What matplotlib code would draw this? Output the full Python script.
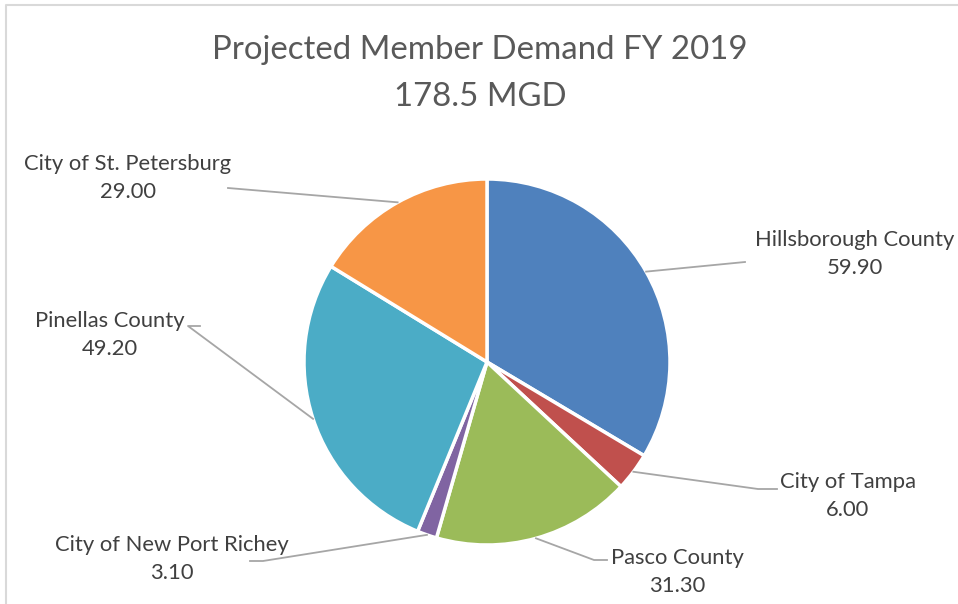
import numpy as np
import matplotlib
matplotlib.use("Agg")
import matplotlib.pyplot as plt
from matplotlib.lines import Line2D

categories = ["Hillsborough County", "City of Tampa", "Pasco County",
              "City of New Port Richey", "Pinellas County", "City of St. Petersburg"]
values = [59.90, 6.00, 31.30, 3.10, 49.20, 29.00]
colors = ["#4F81BD", "#C0504D", "#9BBB59", "#8064A2", "#4BACC6", "#F79646"]
title_lines = ["Projected Member Demand FY 2019", "178.5 MGD"]

# label layout (pixel positions of text centre, line end point)
label_pos = [(855, 254), (848, 496), (677, 572), (172, 559), (110, 335), (128, 178)]
line_end = [(745, 262), (777, 489), (607, 560), (250, 561), (200, 326), (228, 188)]
line_knee = [None, (758, 489), (594, 560), (263, 561), (188, 326), None]

W, H = 958, 604
fig = plt.figure(figsize=(W / 100, H / 100), dpi=100)
ax = fig.add_axes([0, 0, 1, 1])
ax.set_xlim(0, W)
ax.set_ylim(0, H)
ax.set_aspect("equal")
ax.axis("off")

font = "Lato"
txtcol = "#404040"

cx, cy, R = 487, H - 362, 183
wedges, _ = ax.pie(values, colors=colors, startangle=90, counterclock=False,
                   center=(cx, cy), radius=R,
                   wedgeprops=dict(edgecolor="white", linewidth=2.5))
ax.set_xlim(0, W)
ax.set_ylim(0, H)

total = sum(values)
cum = np.cumsum([0] + values)
for i, (name, v) in enumerate(zip(categories, values)):
    mid = (cum[i] + cum[i + 1]) / 2 / total * 360
    ang = np.deg2rad(90 - mid)
    px, py = cx + R * np.cos(ang), cy + R * np.sin(ang)
    ex, ey = line_end[i]
    pts_x = [px]
    pts_y = [py]
    if line_knee[i] is not None:
        kx, ky = line_knee[i]
        pts_x.append(kx); pts_y.append(H - ky)
    pts_x.append(ex); pts_y.append(H - ey)
    ax.add_line(Line2D(pts_x, pts_y, color="#A6A6A6", lw=1.3, zorder=1))
    lx, ly = label_pos[i]
    ax.text(lx, H - ly, f"{name}\n{v:.2f}", ha="center", va="center",
            fontsize=15.8, family=font, color=txtcol, linespacing=1.49)

ax.text(480, H - 50, title_lines[0], ha="center", va="center",
        fontsize=23.8, family=font, color="#595959")
ax.text(480, H - 97, title_lines[1], ha="center", va="center",
        fontsize=23.8, family=font, color="#595959")

# chart border (left and top visible)
ax.add_line(Line2D([6.5, 6.5, W + 5], [-5, H - 4.5, H - 4.5], color="#D9D9D9", lw=1.5))

fig.savefig("out.png", dpi=100)
